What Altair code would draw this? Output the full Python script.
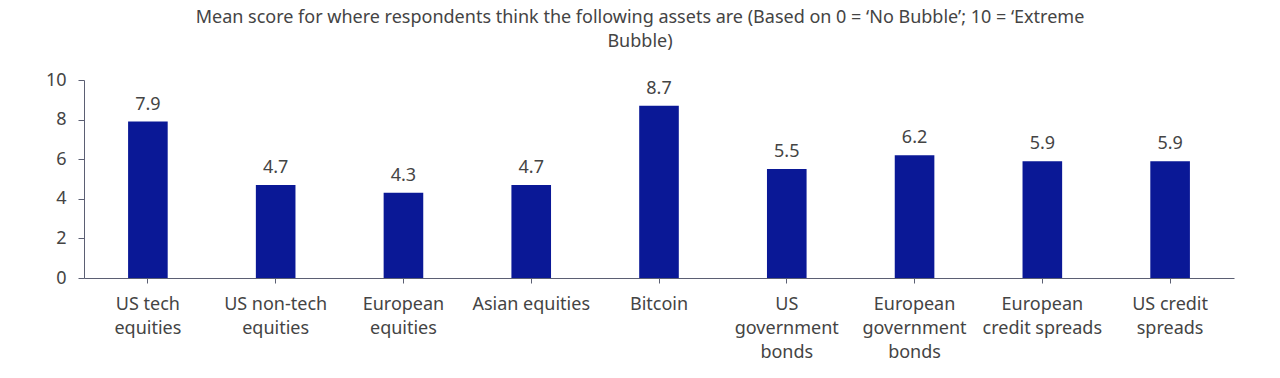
import altair as alt
import pandas as pd

categories = [
    "US tech|equities",
    "US non-tech|equities",
    "European|equities",
    "Asian equities",
    "Bitcoin",
    "US|government|bonds",
    "European|government|bonds",
    "European|credit spreads",
    "US credit|spreads",
]
scores = [7.9, 4.7, 4.3, 4.7, 8.7, 5.5, 6.2, 5.9, 5.9]
y_ticks = [0, 2, 4, 6, 8, 10]
title_lines = [
    "Mean score for where respondents think the following assets are (Based on 0 = \u2018No Bubble\u2019; 10 = \u2018Extreme",
    "Bubble)",
]

df = pd.DataFrame({"asset": categories, "score": scores, "label": [f"{v:.1f}" for v in scores]})

FONT = "Noto Sans"
TEXT = "#444444"
AXIS = "#5b5f73"
BAR = "#0a1896"

x = alt.X(
    "asset:N",
    sort=categories,
    scale=alt.Scale(paddingInner=0.69, paddingOuter=0.345),
    axis=alt.Axis(
        title=None,
        labelAngle=0,
        labelExpr="split(datum.label, '|')",
        labelFont=FONT,
        labelFontSize=18,
        labelColor=TEXT,
        labelLineHeight=24,
        labelPadding=12,
        labelBaseline="top",
        domainColor=AXIS,
        tickColor=AXIS,
        tickSize=5,
        labelLimit=200,
        labelOverlap=False,
    ),
)
y = alt.Y(
    "score:Q",
    scale=alt.Scale(domain=[0, 10], nice=False, zero=True),
    axis=alt.Axis(
        title=None,
        values=y_ticks,
        grid=False,
        labelFont=FONT,
        labelFontSize=18,
        labelColor=TEXT,
        labelPadding=12,
        labelOverlap=False,
        labelFlush=False,
        domainColor=AXIS,
        tickColor=AXIS,
        tickSize=6,
    ),
)

base = alt.Chart(df).encode(x=x, y=y)
bars = base.mark_bar(color=BAR)
labels = base.mark_text(
    dy=-8, font=FONT, fontSize=18, color=TEXT, baseline="bottom"
).encode(text="label:N")

chart = (
    alt.layer(bars, labels)
    .properties(
        width=1150,
        height=198,
        background="white",
        padding={"left": 84, "top": 80, "right": 46, "bottom": 100},
        autosize=alt.AutoSizeParams(type="none"),
        title=alt.Title(
            title_lines,
            anchor="middle",
            dx=-19,
            offset=20,
            font=FONT,
            fontSize=18,
            fontWeight="normal",
            color=TEXT,
            lineHeight=24,
        ),
    )
    .configure_view(strokeWidth=0, stroke="transparent")
    .configure_axis(labelOverlap=False)
)

chart.save("out.html", embed_options={"renderer": "svg", "actions": False})
